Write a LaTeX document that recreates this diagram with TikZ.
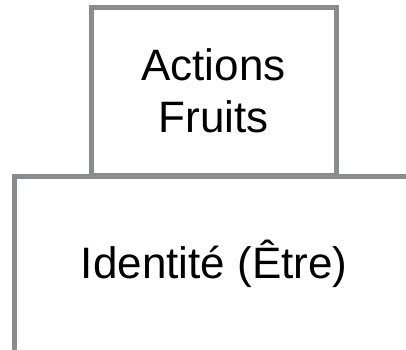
\documentclass[tikz,border=0pt]{standalone}
\usepackage{fontspec}
\setmainfont{Liberation Sans}
\definecolor{G0}{RGB}{137,139,142}
\tikzset{
  layer/.style={draw=G0, line width=2.5pt, fill=white, inner sep=0pt,
    align=center, font=\fontsize{22}{26}\selectfont}
}

\begin{document}
\begin{tikzpicture}[x=0.5pt,y=-0.5pt]
                \clip (0,0) rectangle (406,349);
                \fill[white] (0,0) rectangle (406,349);
                % lower layer, runs off the page
                \node[layer, minimum width=199.75pt, minimum height=88pt] (identite) at (214.25,264) {Identité (Être)};
                % upper layer
                \node[layer, minimum width=122.5pt, minimum height=83.75pt] (actions) at (213.5,91.25) {Actions\\Fruits};
            \end{tikzpicture}
\end{document}
